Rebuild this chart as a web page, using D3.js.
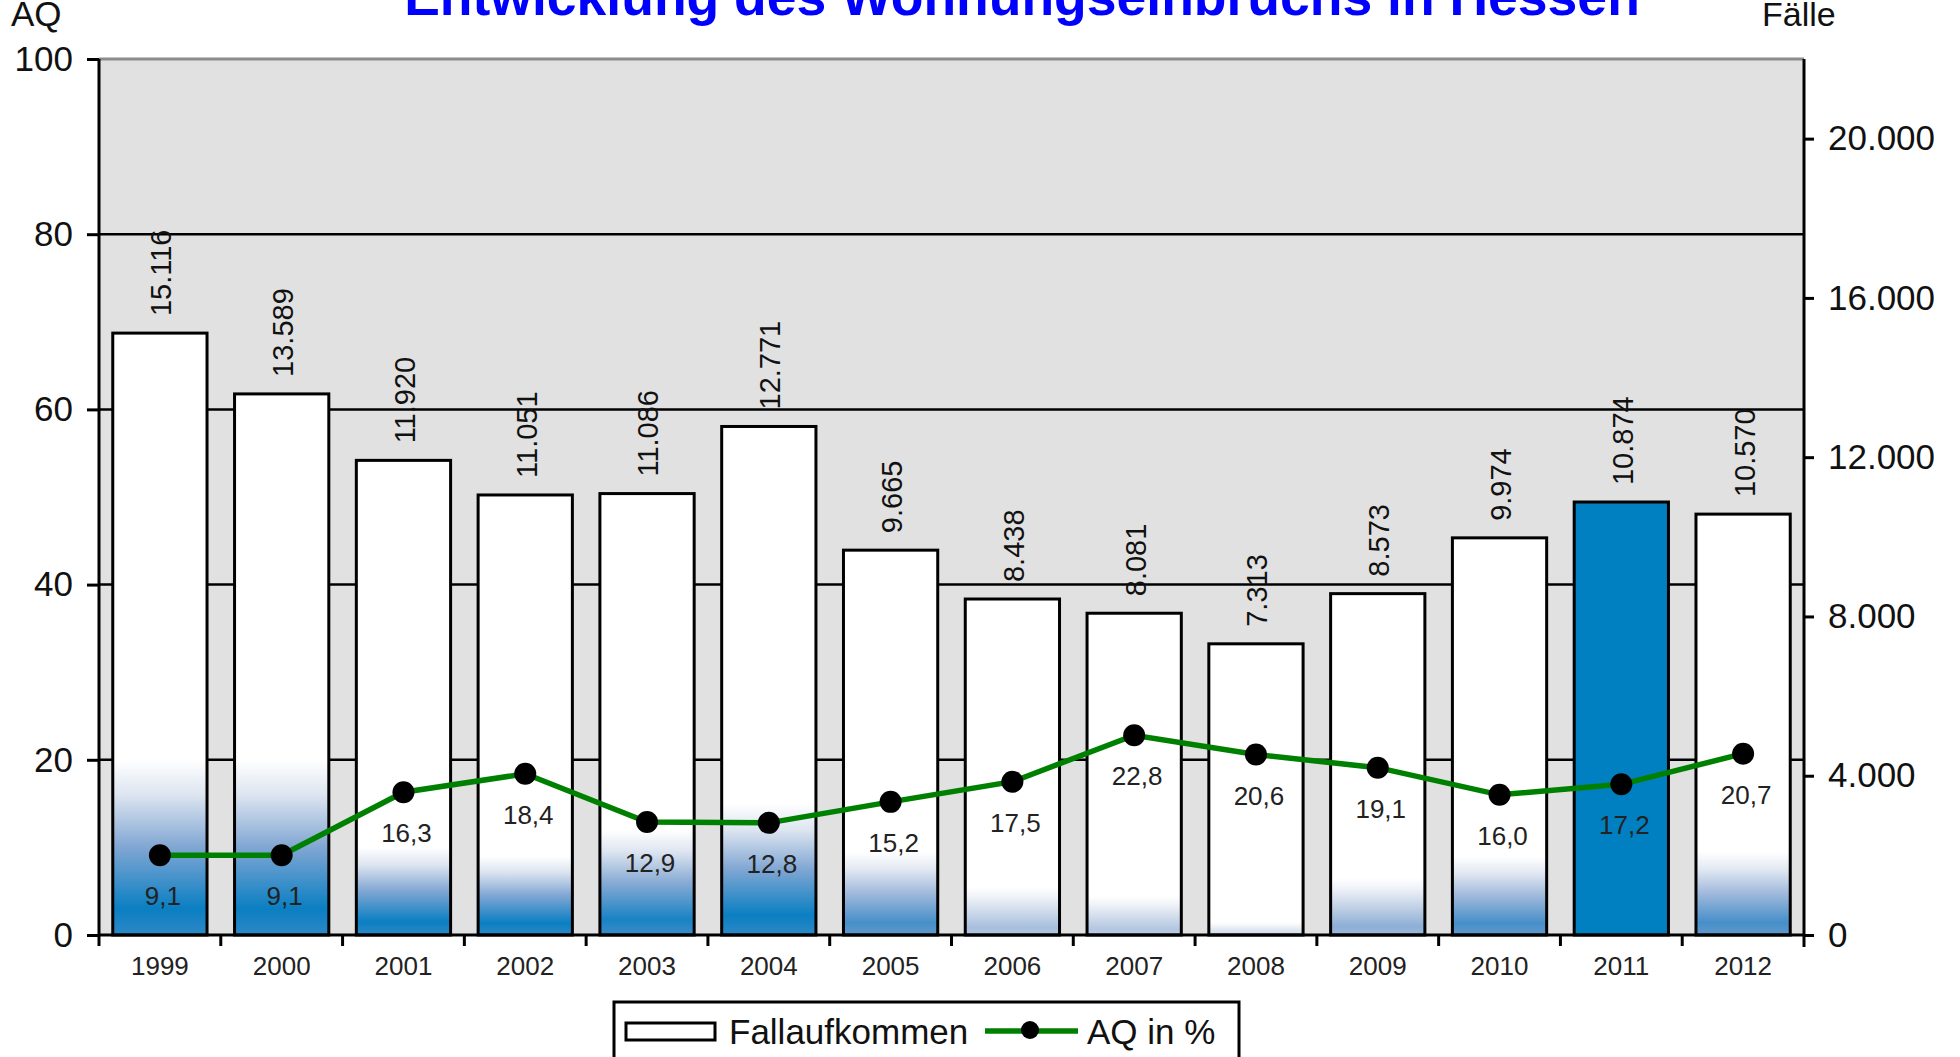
<!DOCTYPE html>
<html>
<head>
<meta charset="utf-8">
<script src="https://cdn.jsdelivr.net/npm/d3@7/dist/d3.min.js"></script>
<style>
  body { margin: 0; background: #fff; }
  svg text { font-family: "Liberation Sans", Arial, sans-serif; }
</style>
</head>
<body>
<div id="chart"></div>
<script>
// daten
var years = ["1999", "2000", "2001", "2002", "2003", "2004", "2005", "2006", "2007", "2008", "2009", "2010", "2011", "2012"];
var faelle = [15116, 13589, 11920, 11051, 11086, 12771, 9665, 8438, 8081, 7313, 8573, 9974, 10874, 10570];
var aq = [9.1, 9.1, 16.3, 18.4, 12.9, 12.8, 15.2, 17.5, 22.8, 20.6, 19.1, 16.0, 17.2, 20.7];
var aqTicks = [0, 20, 40, 60, 80, 100];
var faelleTicks = [0, 4000, 8000, 12000, 16000, 20000];
var title = "Entwicklung des Wohnungseinbruchs in Hessen";
var legendLabels = ["Fallaufkommen", "AQ in %"];

// aussehen der balken (blauer verlauf unten), nur stil
var fadeTop = [20, 20, 10, 9, 12, 15, 9.5, 5.5, 4.5, 1.5, 6.5, 9, 0, 9.5];
var fadeStrength = [1, 1, 1, 1, 0.95, 1, 0.8, 0.45, 0.4, 0.25, 0.55, 0.8, 0, 0.8];
var solidBar = "2011";

var svg_w = 1960;
var svg_h = 1057;
var pLeft = 99, pRight = 1804, pTop = 59, pBottom = 935;

var de = d3.formatLocale({decimal: ",", thousands: ".", grouping: [3], currency: ["", "€"]});
var fmtFaelle = de.format(",d");
var fmtAq = de.format(".1f");

var svg = d3.select("#chart").append("svg")
	.attr("width", svg_w)
	.attr("height", svg_h);

var x = d3.scaleBand()
	.domain(years)
	.range([pLeft, pRight])
	.paddingInner(0.226)
	.paddingOuter(0.113);

var yL = d3.scaleLinear().domain([0, 100]).range([pBottom, pTop]);
var yR = d3.scaleLinear().domain([0, 22000]).range([pBottom, pTop]);

// hintergrund
svg.append("rect")
	.attr("x", pLeft).attr("y", pTop)
	.attr("width", pRight - pLeft).attr("height", pBottom - pTop)
	.attr("fill", "#e1e1e1");

svg.append("line")
	.attr("x1", pLeft).attr("x2", pRight)
	.attr("y1", pTop).attr("y2", pTop)
	.attr("stroke", "#8c8c8c").attr("stroke-width", 3);

// gitterlinien
svg.append("g")
	.selectAll("line")
	.data(aqTicks.filter(function(d) { return d > 0 && d < 100; }))
	.enter().append("line")
	.attr("x1", pLeft).attr("x2", pRight)
	.attr("y1", function(d) { return yL(d); })
	.attr("y2", function(d) { return yL(d); })
	.attr("stroke", "#000").attr("stroke-width", 2.5);

// verlaeufe
var blue = d3.interpolateRgbBasis(["#ffffff", "#c8d4e6", "#6f97cc", "#0a7fc2"]);
var defs = svg.append("defs");
years.forEach(function(y, i) {
	var g = defs.append("linearGradient")
		.attr("id", "grad" + i)
		.attr("gradientUnits", "userSpaceOnUse")
		.attr("x1", 0).attr("x2", 0)
		.attr("y1", yL(0)).attr("y2", yL(fadeTop[i]));
	var t = fadeStrength[i];
	[[0, 0.88], [0.15, 1], [0.5, 0.6], [0.8, 0.2], [1, 0]].forEach(function(s) {
		g.append("stop").attr("offset", s[0]).attr("stop-color", blue(t * s[1]));
	});
});

// balken
svg.append("g")
	.selectAll("rect")
	.data(years)
	.enter().append("rect")
	.attr("x", function(d) { return x(d); })
	.attr("y", function(d, i) { return yR(faelle[i]); })
	.attr("width", x.bandwidth())
	.attr("height", function(d, i) { return yR(0) - yR(faelle[i]); })
	.attr("fill", function(d, i) { return d == solidBar ? "#0080c0" : "url(#grad" + i + ")"; })
	.attr("stroke", "#000")
	.attr("stroke-width", 3);

// werte ueber den balken
svg.append("g")
	.selectAll("text")
	.data(years)
	.enter().append("text")
	.attr("transform", function(d, i) {
		return "translate(" + (x(d) + x.bandwidth() / 2 + 1) + "," + (yR(faelle[i]) - 17) + ") rotate(-90)";
	})
	.attr("dy", "0.36em")
	.attr("font-size", 29)
	.attr("fill", "#111")
	.text(function(d, i) { return fmtFaelle(faelle[i]); });

// achsen
var axL = svg.append("g")
	.attr("transform", "translate(" + pLeft + ",0)")
	.call(d3.axisLeft(yL).tickValues(aqTicks).tickSize(12).tickPadding(14));
var axR = svg.append("g")
	.attr("transform", "translate(" + pRight + ",0)")
	.call(d3.axisRight(yR).tickValues(faelleTicks).tickSize(10).tickPadding(14).tickFormat(fmtFaelle));
var axB = svg.append("g")
	.attr("transform", "translate(0," + pBottom + ")")
	.call(d3.axisBottom(x).tickSize(0).tickPadding(22));

[axL, axR].forEach(function(a) {
	a.select(".domain").attr("stroke-width", 3).attr("stroke", "#000");
	a.selectAll(".tick line").attr("stroke-width", 3);
	a.selectAll(".tick text").attr("font-size", 35).attr("fill", "#111")
		.attr("font-family", "Liberation Sans, Arial, sans-serif");
});
axL.select(".domain").attr("d", "M0," + pBottom + "V" + pTop);
axR.select(".domain").attr("d", "M0," + (pBottom + 12) + "V" + pTop);

axB.select(".domain").attr("stroke-width", 3).attr("d", "M" + pLeft + ",0H" + pRight);
axB.selectAll(".tick text").attr("font-size", 26).attr("fill", "#222")
	.attr("font-family", "Liberation Sans, Arial, sans-serif");
// striche zwischen den jahren
var step = x.step();
svg.append("g")
	.selectAll("line")
	.data(years)
	.enter().append("line")
	.attr("x1", function(d) { return x(d) - step * 0.113; })
	.attr("x2", function(d) { return x(d) - step * 0.113; })
	.attr("y1", pBottom).attr("y2", pBottom + 11)
	.attr("stroke", "#000").attr("stroke-width", 3);

// AQ linie
var line = d3.line()
	.x(function(d, i) { return x(years[i]) + x.bandwidth() / 2; })
	.y(function(d) { return yL(d); });

svg.append("path")
	.datum(aq)
	.attr("d", line)
	.attr("fill", "none")
	.attr("stroke", "#008000")
	.attr("stroke-width", 5.5);

svg.append("g")
	.selectAll("circle")
	.data(aq)
	.enter().append("circle")
	.attr("cx", function(d, i) { return x(years[i]) + x.bandwidth() / 2; })
	.attr("cy", function(d) { return yL(d); })
	.attr("r", 11)
	.attr("fill", "#000");

svg.append("g")
	.selectAll("text")
	.data(aq)
	.enter().append("text")
	.attr("x", function(d, i) { return x(years[i]) + x.bandwidth() / 2 + 3; })
	.attr("y", function(d) { return yL(d) + 50; })
	.attr("text-anchor", "middle")
	.attr("font-size", 26)
	.attr("fill", "#222")
	.text(function(d) { return fmtAq(d); });

// titel und achsentitel
svg.append("text")
	.attr("x", 1022).attr("y", 15)
	.attr("text-anchor", "middle")
	.attr("font-size", 53.5)
	.attr("font-weight", "bold")
	.attr("fill", "#0000ff")
	.text(title);

svg.append("text")
	.attr("x", 11).attr("y", 26)
	.attr("font-size", 35)
	.attr("fill", "#111")
	.text("AQ");

svg.append("text")
	.attr("x", 1762).attr("y", 26)
	.attr("font-size", 34)
	.attr("fill", "#111")
	.text("Fälle");

// legende
var lg = svg.append("g");
lg.append("rect")
	.attr("x", 614).attr("y", 1002)
	.attr("width", 625).attr("height", 80)
	.attr("fill", "#fff")
	.attr("stroke", "#000").attr("stroke-width", 3);
lg.append("rect")
	.attr("x", 626).attr("y", 1023)
	.attr("width", 89).attr("height", 17)
	.attr("fill", "#fff")
	.attr("stroke", "#000").attr("stroke-width", 3);
lg.append("text")
	.attr("x", 729).attr("y", 1044)
	.attr("font-size", 35)
	.attr("fill", "#111")
	.text(legendLabels[0]);
lg.append("line")
	.attr("x1", 985).attr("x2", 1078)
	.attr("y1", 1031).attr("y2", 1031)
	.attr("stroke", "#008000").attr("stroke-width", 5.5);
lg.append("circle")
	.attr("cx", 1030).attr("cy", 1030)
	.attr("r", 9)
	.attr("fill", "#000");
lg.append("text")
	.attr("x", 1087).attr("y", 1044)
	.attr("font-size", 35)
	.attr("fill", "#111")
	.text(legendLabels[1]);
</script>
</body>
</html>
